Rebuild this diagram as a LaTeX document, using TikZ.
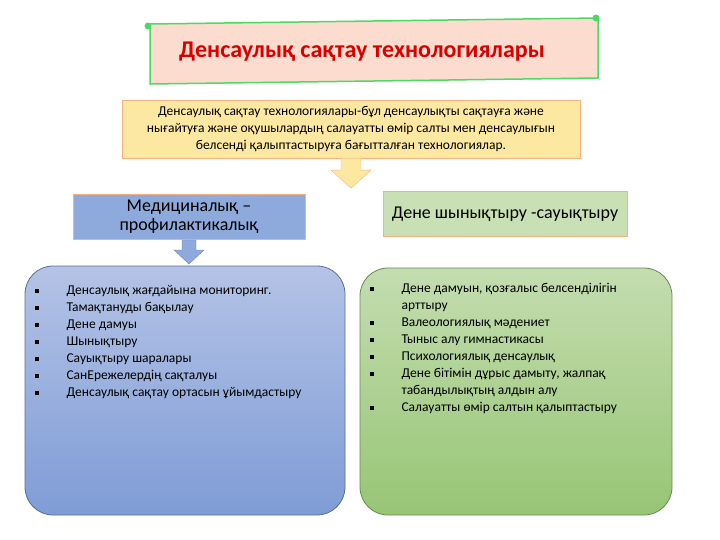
\documentclass[tikz,border=0pt]{standalone}
\usepackage{fontspec}
\setmainfont{Carlito}
\usepackage{tikz}
\usetikzlibrary{positioning, shapes, arrows}
\definecolor{scrollpink}{HTML}{FBDCCF}
\definecolor{scrollgreen}{HTML}{4CD964}
\definecolor{defyellow}{HTML}{FDE8A2}
\definecolor{boxorange}{HTML}{F4B183}
\definecolor{medblue}{HTML}{8EA9DB}
\definecolor{physgreen}{HTML}{C9E0B4}
\definecolor{bluetop}{HTML}{B4C3E6}
\definecolor{bluebot}{HTML}{7F9CD6}
\definecolor{greentop}{HTML}{C4DDB0}
\definecolor{greenbot}{HTML}{97C575}
\newcommand{\itm}{\makebox[32pt][l]{\rule[1.5pt]{4pt}{4pt}}}
\begin{document}
\begin{tikzpicture}[
		x=1pt, y=-1pt,
		header/.style={rectangle, draw=boxorange, line width=1pt, fill=#1, font=\fontsize{18}{19}\selectfont, align=center},
		panel/.style={draw=#1, line width=0.8pt, rounded corners=28pt},
		list/.style={anchor=north west, align=left, font=\fontsize{13.5}{17}\selectfont}
		]
		\useasboundingbox (0,0) rectangle (720,540);
		
		% Title scroll
		\draw[scrollgreen, line width=1.5pt, fill=scrollpink] (150,24) -- (598,18) -- (598,78) -- (150,84) -- cycle;
		\fill[scrollgreen] (148,26) circle (3.5pt) (596,18) circle (3.5pt);
		\node[font=\fontsize{24}{25}\selectfont\bfseries, text=red!85!black] (title) at (362,52) {Денсаулық сақтау технологиялары};
		
		% Definition
		\node[rectangle, draw=boxorange, fill=defyellow, minimum width=458pt, minimum height=58pt, align=center,
			font=\fontsize{13.5}{17}\selectfont, inner sep=1pt] (def) at (351,129) {%
			Денсаулық сақтау технологиялары-бұл денсаулықты сақтауға және\\
			нығайтуға және оқушылардың салауатты өмір салты мен денсаулығын\\
			белсенді қалыптастыруға бағытталған технологиялар.};
		\draw[boxorange, fill=defyellow] (def.south) ++(-10,0) -- ++(0,12) -- ++(-10,0) -- ++(20,18) -- ++(20,-18) -- ++(-10,0) -- ++(0,-12) -- cycle;
		
		% Headers
		\node[header=medblue, minimum width=232pt, minimum height=45pt] (med) at (189,217) {Медициналық –\\профилактикалық};
		\node[header=physgreen, minimum width=244pt, minimum height=45pt] (phys) at (505,214) {Дене шынықтыру -сауықтыру};
		\draw[medblue!80!black, fill=medblue] (med.south) ++(-7,0) -- ++(0,10) -- ++(-8,0) -- ++(15,14) -- ++(15,-14) -- ++(-8,0) -- ++(0,-10) -- cycle;
		
		% Panels
		\draw[panel=bluebot!70!black, top color=bluetop, bottom color=bluebot] (25,266) rectangle (345,515);
		\draw[panel=greenbot!70!black, top color=greentop, bottom color=greenbot] (360,268) rectangle (672,515);
		\coordinate (medlist) at (31,282);
		\coordinate (physlist) at (366,280);
		\node[list] (medtext) at (medlist) {%
			\itm Денсаулық жағдайына мониторинг.\\
			\itm Тамақтануды бақылау\\
			\itm Дене дамуы\\
			\itm Шынықтыру\\
			\itm Сауықтыру шаралары\\
			\itm СанЕрежелердің сақталуы\\
			\itm Денсаулық сақтау ортасын ұйымдастыру};
		\node[list] (phystext) at (physlist) {%
			\itm Дене дамуын, қозғалыс белсенділігін\\
			\hspace*{32pt}арттыру\\
			\itm Валеологиялық мәдениет\\
			\itm Тыныс алу гимнастикасы\\
			\itm Психологиялық денсаулық\\
			\itm Дене бітімін дұрыс дамыту, жалпақ\\
			\hspace*{32pt}табандылықтың алдын алу\\
			\itm Салауатты өмір салтын қалыптастыру};
	\end{tikzpicture}
\end{document}
